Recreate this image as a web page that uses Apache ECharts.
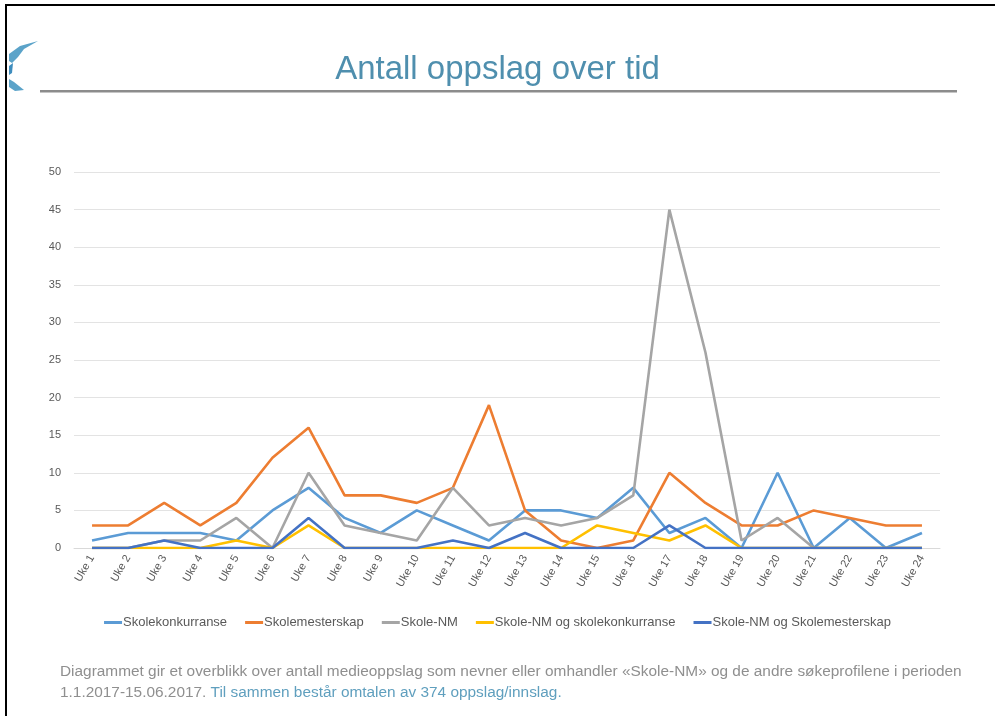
<!DOCTYPE html>
<html>
<head>
<meta charset="utf-8">
<script src="https://cdn.jsdelivr.net/npm/echarts@6/dist/echarts.min.js"></script>
<style>
html,body{margin:0;padding:0;background:#fff;}
#c{width:995px;height:716px;}
</style>
</head>
<body>
<div id="c"></div>
<script>
var categories = ['Uke 1','Uke 2','Uke 3','Uke 4','Uke 5','Uke 6','Uke 7','Uke 8','Uke 9','Uke 10','Uke 11','Uke 12','Uke 13','Uke 14','Uke 15','Uke 16','Uke 17','Uke 18','Uke 19','Uke 20','Uke 21','Uke 22','Uke 23','Uke 24'];
var seriesNames = ['Skolekonkurranse','Skolemesterskap','Skole-NM','Skole-NM og skolekonkurranse','Skole-NM og Skolemesterskap'];
var skolekonkurranse = [1,2,2,2,1,5,8,4,2,5,3,1,5,5,4,8,2,4,0,10,0,4,0,2];
var skolemesterskap = [3,3,6,3,6,12,16,7,7,6,8,19,5,1,0,1,10,6,3,3,5,4,3,3];
var skoleNM = [0,0,1,1,4,0,10,3,2,1,8,3,4,3,4,7,45,26,1,4,0,0,0,0];
var nmKonkurranse = [0,0,0,0,1,0,3,0,0,0,0,0,0,0,3,2,1,3,0,0,0,0,0,0];
var nmMesterskap = [0,0,1,0,0,0,4,0,0,0,1,0,2,0,0,0,3,0,0,0,0,0,0,0];
var yTicks = [0,5,10,15,20,25,30,35,40,45,50];

var colors = ['#5B9BD5','#ED7D31','#A5A5A5','#FFC000','#4472C4'];
var allData = [skolekonkurranse, skolemesterskap, skoleNM, nmKonkurranse, nmMesterskap];

var chart = echarts.init(document.getElementById('c'));
var font = '"Liberation Sans", Arial, sans-serif';

chart.setOption({
  animation: false,
  color: colors,
  grid: {left: 74, right: 55, top: 172, bottom: 168, containLabel: false},
  legend: {
    data: seriesNames,
    left: 'center',
    top: 611,
    itemWidth: 18,
    itemHeight: 3,
    itemGap: 18,
    icon: 'rect',
    textStyle: {fontFamily: font, fontSize: 13, color: '#595959', padding: [0,0,0,-4]}
  },
  xAxis: {
    type: 'category',
    data: categories,
    boundaryGap: true,
    axisLine: {show: true, lineStyle: {color: '#D9D9D9', width: 1}},
    axisTick: {show: false},
    axisLabel: {rotate: 60, fontSize: 11, color: '#595959', fontFamily: font, margin: 8, interval: 0}
  },
  yAxis: {
    type: 'value',
    min: yTicks[0],
    max: yTicks[yTicks.length-1],
    interval: 5,
    axisLine: {show: false},
    axisTick: {show: false},
    splitLine: {lineStyle: {color: '#E3E3E3', width: 1}},
    axisLabel: {fontSize: 11, color: '#595959', fontFamily: font, margin: 13}
  },
  series: seriesNames.map(function(n, i){
    return {
      name: n,
      type: 'line',
      data: allData[i],
      symbol: 'none',
      lineStyle: {width: 2.6, color: colors[i]},
      z: 2 + i
    };
  }),
  graphic: [
    {type: 'rect', shape: {x: 5, y: 4, width: 1000, height: 2}, style: {fill: '#000'}},
    {type: 'rect', shape: {x: 5, y: 4, width: 2, height: 720}, style: {fill: '#000'}},
    {type: 'polygon', shape: {points: [[9,54],[20,46],[38,41],[24,49],[18,57],[12,63],[9,61]]}, style: {fill: '#5BA3C9'}},
    {type: 'polygon', shape: {points: [[9,66],[13,63],[12,73],[9,75]]}, style: {fill: '#3E8DBE'}},
    {type: 'polygon', shape: {points: [[9,79],[14,82],[24,90],[15,91],[9,87]]}, style: {fill: '#5BA3C9'}},
    {type: 'text', left: 'center', top: 53, style: {text: 'Antall oppslag over tid', fontFamily: font, fontSize: 33, fill: '#4F8FAE'}},
    {type: 'rect', shape: {x: 40, y: 90, width: 917, height: 2.5}, style: {fill: '#8C8C8C'}},
    {type: 'text', left: 60, top: 664, style: {text: 'Diagrammet gir et overblikk over antall medieoppslag som nevner eller omhandler «Skole-NM» og de andre søkeprofilene i perioden', fontFamily: font, fontSize: 15.4, fill: '#8F8F8F'}},
    {type: 'text', left: 60, top: 685, style: {
      text: '{a|1.1.2017-15.06.2017. }{b|Til sammen består omtalen av 374 oppslag/innslag.}',
      rich: {
        a: {fontFamily: font, fontSize: 15.4, fill: '#8F8F8F'},
        b: {fontFamily: font, fontSize: 15.4, fill: '#5F9FBE'}
      }
    }}
  ]
});
</script>
</body>
</html>
